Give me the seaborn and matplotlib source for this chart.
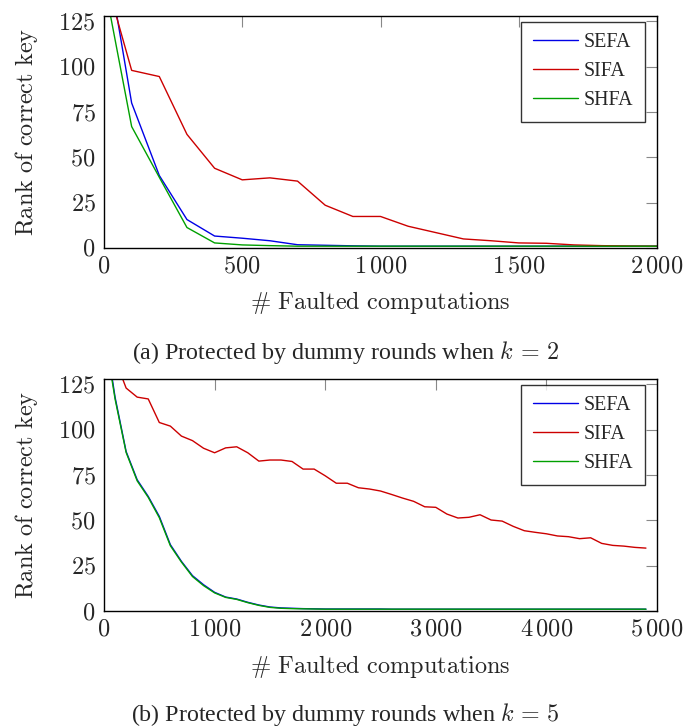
import matplotlib
matplotlib.use("Agg")
import matplotlib.pyplot as plt
from matplotlib.ticker import FuncFormatter
import pandas as pd
import seaborn as sns

# ---------- data ----------
methods = ["SEFA", "SIFA", "SHFA"]
colors = {"SEFA": "#0000e6", "SIFA": "#cc0000", "SHFA": "#00a000"}

# (a) k = 2
x_a = [0, 100, 200, 300, 400, 500, 600, 700, 800, 900, 1000,
       1100, 1200, 1300, 1400, 1500, 1600, 1700, 1800, 1900, 2000]
sefa_a = [170, 80, 40, 15.7, 6.6, 5.4, 4.0, 1.8, 1.5, 1.2, 1.0,
          1.0, 1.0, 1.0, 1.0, 1.0, 1.0, 1.0, 1.0, 1.0, 1.0]
sifa_a = [152, 98, 94.6, 62.7, 44, 37.6, 38.7, 36.9, 23.6, 17.4, 17.4,
          12.0, 8.5, 5.0, 4.0, 2.8, 2.6, 1.7, 1.3, 1.1, 1.0]
shfa_a = [147, 67, 39, 11.3, 2.8, 1.7, 1.3, 1.0, 1.0, 1.0, 1.0,
          1.0, 1.0, 1.0, 1.0, 1.0, 1.0, 1.0, 1.0, 1.0, 1.0]

# (b) k = 5
x_b = [0, 100, 200, 300, 400, 500, 600, 700, 800, 900,
       1000, 1100, 1200, 1300, 1400, 1500, 1600, 1700, 1800, 1900,
       2000, 2100, 2200, 2300, 2400, 2500, 2600, 2700, 2800, 2900,
       3000, 3100, 3200, 3300, 3400, 3500, 3600, 3700, 3800, 3900,
       4000, 4100, 4200, 4300, 4400, 4500, 4600, 4700, 4800, 4900]
sefa_b = [158, 118, 88, 72.4, 63.2, 52.2, 36.6, 27.4, 19.5, 14.5,
          10.3, 7.7, 6.6, 4.8, 3.3, 2.2, 1.7, 1.5, 1.3, 1.2,
          1.1, 1.1, 1.1, 1.1, 1.1, 1.1, 1.0, 1.0, 1.0, 1.0,
          1.0, 1.0, 1.0, 1.0, 1.0, 1.0, 1.0, 1.0, 1.0, 1.0,
          1.0, 1.0, 1.0, 1.0, 1.0, 1.0, 1.0, 1.0, 1.0, 1.0]
sifa_b = [160, 139, 123, 118, 117, 104, 102, 96.5, 94, 89.8,
          87.3, 90, 90.6, 87.3, 82.7, 83.3, 83.3, 82.5, 78.3, 78.3,
          74.6, 70.5, 70.5, 68, 67.3, 66.2, 64.3, 62.3, 60.5, 57.5,
          57.2, 53.5, 51.3, 51.7, 53.1, 50.2, 49.6, 46.7, 44.3, 43.4,
          42.6, 41.4, 41, 39.9, 40.4, 37.3, 36.2, 35.8, 35.1, 34.7]
shfa_b = [155, 117, 87.5, 71.8, 62.7, 51.5, 36, 27, 19, 14,
          10, 7.5, 6.4, 4.6, 3.1, 2.0, 1.5, 1.3, 1.2, 1.1,
          1.0, 1.0, 1.0, 1.0, 1.0, 1.0, 1.0, 1.0, 1.0, 1.0,
          1.0, 1.0, 1.0, 1.0, 1.0, 1.0, 1.0, 1.0, 1.0, 1.0,
          1.0, 1.0, 1.0, 1.0, 1.0, 1.0, 1.0, 1.0, 1.0, 1.0]

y_ticks = [0, 25, 50, 75, 100, 125]


def long_frame(x, series):
    rows = []
    for name, vals in zip(methods, series):
        rows += [{"x": xi, "rank": v, "method": name} for xi, v in zip(x, vals)]
    return pd.DataFrame(rows)


def tex_num(v, _pos=None):
    v = int(round(v))
    if v >= 1000:
        return r"$%d\,%03d$" % (v // 1000, v % 1000)
    return r"$%d$" % v


# ---------- style ----------
sns.set_theme(style="white")
plt.rcParams["font.family"] = ["Liberation Serif", "DejaVu Serif"]
plt.rcParams["mathtext.fontset"] = "cm"

W, H = 691, 727
fig = plt.figure(figsize=(W / 100, H / 100), dpi=100)


def px_axes(left, top, right, bottom):
    return fig.add_axes([left / W, 1 - bottom / H, (right - left) / W, (bottom - top) / H])


def draw_panel(ax, x, series, xmax, xticks, caption, cap_y):
    df = long_frame(x, series)
    sns.lineplot(data=df, x="x", y="rank", hue="method", hue_order=methods,
                 palette=colors, linewidth=1.0, ax=ax, legend=True)
    ax.set_xlim(0, xmax)
    ax.set_ylim(0, 128)
    ax.set_xticks(xticks)
    ax.set_yticks(y_ticks)
    ax.xaxis.set_major_formatter(FuncFormatter(tex_num))
    ax.yaxis.set_major_formatter(FuncFormatter(tex_num))
    ax.tick_params(direction="in", top=True, right=True, length=8, width=0.8,
                   color="#888888", labelsize=17.5, pad=6)
    for sp in ax.spines.values():
        sp.set_color("black")
        sp.set_linewidth(1.0)

    ax.set_xlabel(r"$\#\ \mathrm{Faulted\ computations}$", fontsize=17.5)
    ax.set_ylabel(r"$\mathrm{Rank\ of\ correct\ key}$", fontsize=17.5)
    ax.xaxis.set_label_coords(0.5, -(302 - 248) / 232)
    ax.xaxis.label.set_va("center")
    ax.yaxis.set_label_coords(-(104 - 27) / 553, 0.5)
    ax.yaxis.label.set_va("center")

    handles, labels = ax.get_legend_handles_labels()
    leg = ax.legend(handles, labels, loc="upper right",
                    bbox_to_anchor=((645 - 104) / 553, 1 - 5.7 / 232),
                    borderaxespad=0, fontsize=14.4, frameon=True, fancybox=False,
                    edgecolor="black", handlelength=2.25, handletextpad=0.3,
                    labelspacing=0.5, borderpad=0.58)
    leg.get_frame().set_linewidth(1.0)
    for line in leg.get_lines():
        line.set_linewidth(1.0)

    fig.text(0.5, 1 - cap_y / H, caption, ha="center", va="center", fontsize=17.3)


ax_a = px_axes(104, 16, 657, 248)
draw_panel(ax_a, x_a, [sefa_a, sifa_a, shfa_a], 2000, [0, 500, 1000, 1500, 2000],
           r"(a) Protected by dummy rounds when $k\,=\,2$", 353)

ax_b = px_axes(104, 379, 657, 611)
draw_panel(ax_b, x_b, [sefa_b, sifa_b, shfa_b], 5000, [0, 1000, 2000, 3000, 4000, 5000],
           r"(b) Protected by dummy rounds when $k\,=\,5$", 715)
ax_b.xaxis.set_label_coords(0.5, -(667 - 611) / 232)

fig.savefig("out.png", dpi=100)
